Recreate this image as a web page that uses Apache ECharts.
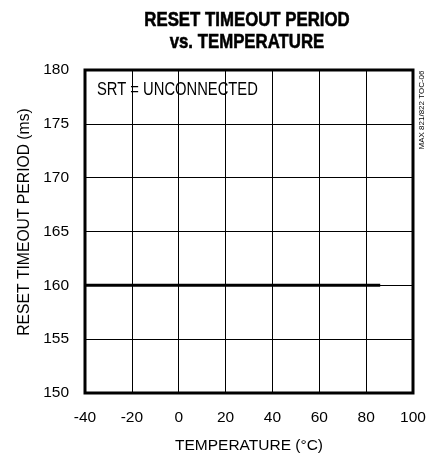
<!DOCTYPE html>
<html><head><meta charset="utf-8">
<script src="https://cdn.jsdelivr.net/npm/echarts@6/dist/echarts.min.js"></script>
<style>html,body{margin:0;padding:0;background:#fff}#c{width:438px;height:459px}</style>
</head><body><div id="c"></div>
<script>
const temperatures = [-40, -20, 0, 20, 40, 60, 86];
const periodMs = [160, 160, 160, 160, 160, 160, 160];
const titleLines = ['RESET TIMEOUT PERIOD', 'vs. TEMPERATURE'];
const FONT = '"Liberation Sans", Arial, sans-serif';

const chart = echarts.init(document.getElementById('c'));
chart.setOption({
  animation: false,
  grid: {left: 85, right: 25, top: 70, bottom: 61, show: true, borderColor: '#000', borderWidth: 3, backgroundColor: 'transparent'},
  xAxis: {
    type: 'value', min: -40, max: 100, interval: 20,
    name: 'TEMPERATURE (°C)', nameLocation: 'middle', nameGap: 45,
    nameTextStyle: {fontFamily: FONT, fontSize: 15.5, color: '#000'},
    axisLine: {show: false}, axisTick: {show: false},
    axisLabel: {fontFamily: FONT, fontSize: 15.5, color: '#000', margin: 17},
    splitLine: {show: true, lineStyle: {color: '#000', width: 1}}
  },
  yAxis: {
    type: 'value', min: 150, max: 180, interval: 5,
    name: 'RESET TIMEOUT PERIOD (ms)', nameLocation: 'middle', nameGap: 52, nameRotate: 90,
    nameTextStyle: {fontFamily: FONT, fontSize: 15.7, color: '#000', padding: [0, 0, 0, 19]},
    axisLine: {show: false}, axisTick: {show: false},
    axisLabel: {fontFamily: FONT, fontSize: 15.5, color: '#000', margin: 16},
    splitLine: {show: true, lineStyle: {color: '#000', width: 1}}
  },
  series: [{
    type: 'line', data: temperatures.map((t, i) => [t, periodMs[i]]),
    showSymbol: false, lineStyle: {color: '#000', width: 3}
  }],
  graphic: [
    {type: 'text', x: 247, y: 20, scaleX: 0.8, style: {text: titleLines[0], fontFamily: FONT, fontWeight: 'bold', fontSize: 21, fill: '#000', stroke: '#000', lineWidth: 0.6, align: 'center', verticalAlign: 'middle'}},
    {type: 'text', x: 247, y: 42.5, scaleX: 0.8, style: {text: titleLines[1], fontFamily: FONT, fontWeight: 'bold', fontSize: 21, fill: '#000', stroke: '#000', lineWidth: 0.6, align: 'center', verticalAlign: 'middle'}},
    {type: 'text', x: 97, y: 90.5, scaleX: 0.82, style: {text: 'SRT = UNCONNECTED', fontFamily: FONT, fontSize: 18, fill: '#000', align: 'left', verticalAlign: 'middle'}},
    {type: 'text', x: 422, y: 110, rotation: Math.PI / 2, style: {text: 'MAX 821/822 TOC-06', fontFamily: FONT, fontSize: 8, fill: '#000', align: 'center', verticalAlign: 'middle'}}
  ]
});
</script></body></html>
